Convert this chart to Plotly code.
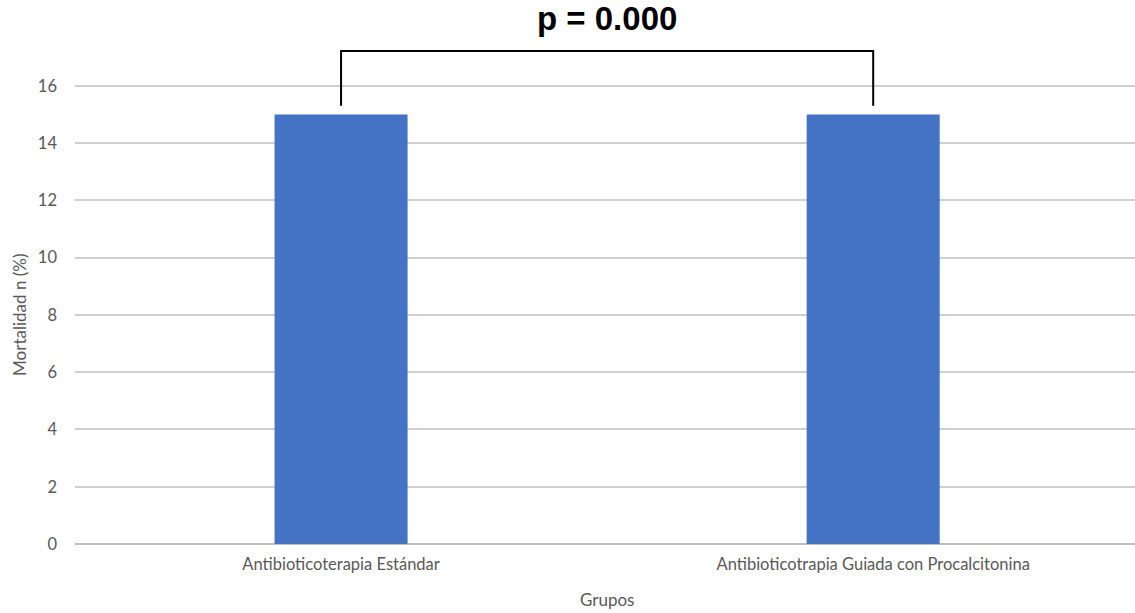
import plotly.graph_objects as go

# Mortality by treatment group
grupos = ["Antibioticoterapia Estándar", "Antibioticotrapia Guiada con Procalcitonina"]
mortalidad = [15, 15]
p_label = "p = 0.000"

fig = go.Figure(
    go.Bar(
        x=[0, 1],
        y=mortalidad,
        width=0.25,
        marker=dict(color="#4472C4", line=dict(width=0)),
    )
)

# Significance bracket between the two bars
fig.add_shape(
    type="path",
    path="M 0,15.3 L 0,17.22 L 1,17.22 L 1,15.3",
    xref="x", yref="y",
    line=dict(color="black", width=2),
)
fig.add_annotation(
    x=0.5, y=1.0, xref="x", yref="paper",
    yshift=1, yanchor="bottom",
    text=f"<b>{p_label}</b>", showarrow=False,
    font=dict(family="Liberation Sans, Arial", size=33, color="black"),
)

gray = "#595959"
font_family = "Lato, Open Sans"

# Axis titles
fig.add_annotation(
    x=0.5, y=0, xref="x", yref="paper",
    yshift=-43, yanchor="top",
    text="Grupos", showarrow=False,
    font=dict(family=font_family, size=17, color=gray),
)
fig.add_annotation(
    x=0, y=8, xref="paper", yref="y",
    xshift=-55, xanchor="center",
    text="Mortalidad n (%)", showarrow=False, textangle=-90,
    font=dict(family=font_family, size=17, color=gray),
)

fig.update_layout(
    width=1135, height=613,
    margin=dict(l=75, r=0, t=40, b=69),
    paper_bgcolor="white", plot_bgcolor="white",
    showlegend=False,
    font=dict(family=font_family, color=gray),
    xaxis=dict(
        range=[-0.5, 1.492],
        tickvals=[0, 1], ticktext=grupos,
        tickfont=dict(size=16.5, color=gray),
        ticks="", showgrid=False, zeroline=False,
        showline=False,
        ticklabelstandoff=8,
    ),
    yaxis=dict(
        range=[0, 17.6],
        tick0=0, dtick=2,
        tickfont=dict(size=16.5, color=gray),
        gridcolor="#d0d0d0", gridwidth=1.5,
        zeroline=True, zerolinecolor="#c0c0c0", zerolinewidth=1.5,
        showline=False, ticks="",
        ticklabelstandoff=17,
    ),
)

fig.write_html("out.html")
